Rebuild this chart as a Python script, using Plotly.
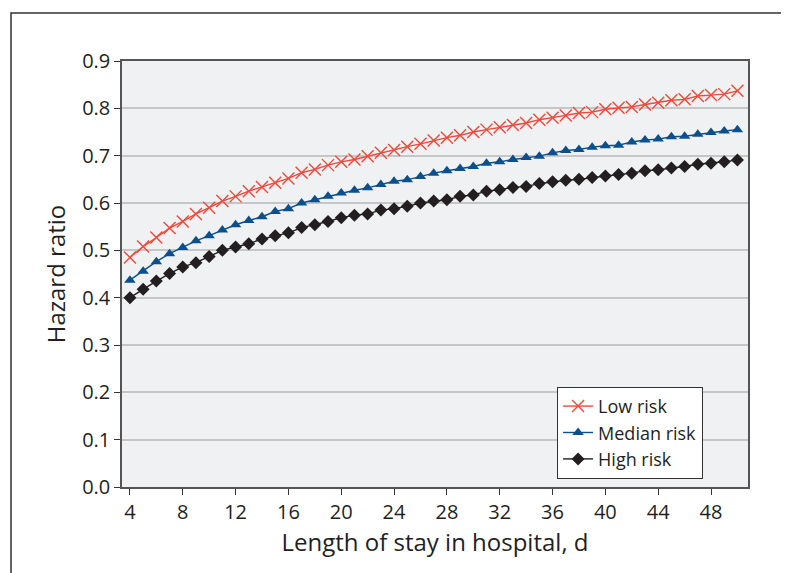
import plotly.graph_objects as go

days = list(range(4, 51))

low_risk = [0.485, 0.508, 0.527, 0.547, 0.561, 0.577, 0.590, 0.604, 0.614, 0.625,
            0.634, 0.643, 0.652, 0.664, 0.671, 0.680, 0.687, 0.692, 0.699, 0.706,
            0.712, 0.719, 0.725, 0.732, 0.738, 0.743, 0.750, 0.755, 0.760, 0.765,
            0.769, 0.776, 0.780, 0.785, 0.790, 0.792, 0.798, 0.801, 0.803, 0.808,
            0.812, 0.817, 0.819, 0.826, 0.828, 0.830, 0.837]

median_risk = [0.437, 0.456, 0.476, 0.493, 0.506, 0.520, 0.531, 0.543, 0.554, 0.563,
               0.571, 0.582, 0.588, 0.600, 0.607, 0.614, 0.621, 0.627, 0.632, 0.639,
               0.646, 0.649, 0.656, 0.663, 0.668, 0.673, 0.677, 0.684, 0.687, 0.692,
               0.696, 0.699, 0.706, 0.711, 0.713, 0.718, 0.721, 0.722, 0.729, 0.733,
               0.735, 0.740, 0.741, 0.745, 0.749, 0.752, 0.755]

high_risk = [0.400, 0.418, 0.435, 0.451, 0.465, 0.474, 0.487, 0.500, 0.507, 0.514,
             0.524, 0.531, 0.537, 0.548, 0.554, 0.561, 0.569, 0.574, 0.577, 0.585,
             0.588, 0.593, 0.600, 0.604, 0.607, 0.614, 0.617, 0.625, 0.628, 0.633,
             0.635, 0.641, 0.645, 0.648, 0.650, 0.654, 0.657, 0.660, 0.663, 0.668,
             0.670, 0.674, 0.677, 0.682, 0.684, 0.687, 0.691]

x_ticks = list(range(4, 49, 4))
y_ticks = [i / 10 for i in range(0, 10)]

RED = "#f0483a"
BLUE = "#0b4f8d"
BLACK = "#231f20"
TEXT = "#231f20"
FONT = "Open Sans"

fig = go.Figure()
fig.add_trace(go.Scatter(
    x=days, y=low_risk, name="Low risk", mode="lines+markers",
    line=dict(color=RED, width=1.4),
    marker=dict(symbol="x-thin", size=12, color=RED, line=dict(color=RED, width=1.4)),
))
fig.add_trace(go.Scatter(
    x=days, y=median_risk, name="Median risk", mode="lines+markers",
    line=dict(color=BLUE, width=1.4),
    marker=dict(symbol="triangle-up", size=10, color=BLUE),
))
fig.add_trace(go.Scatter(
    x=days, y=high_risk, name="High risk", mode="lines+markers",
    line=dict(color=BLACK, width=1.4),
    marker=dict(symbol="diamond", size=10, color=BLACK),
))

fig.update_layout(
    width=789, height=573,
    margin=dict(l=114, r=49, t=53, b=94),
    paper_bgcolor="white",
    plot_bgcolor="#f0f1f3",
    font=dict(family=FONT, size=20, color=TEXT),
    showlegend=True,
    legend=dict(
        x=0.695, y=0.235, xanchor="left", yanchor="top",
        bgcolor="white", bordercolor="#333333", borderwidth=1,
        font=dict(family=FONT, size=18, color=TEXT),
        itemwidth=30, tracegroupgap=0,
    ),
    xaxis=dict(
        range=[3.4, 50.8], tickmode="array", tickvals=x_ticks,
        ticks="outside", ticklen=6, tickcolor="#333333", tickwidth=1.2,
        showgrid=False, zeroline=False,
        showline=True, mirror=True, linecolor="#555555", linewidth=1.5,
        tickfont=dict(size=20),
        title=dict(text="Length of stay in hospital, d", font=dict(size=24), standoff=4),
    ),
    yaxis=dict(
        range=[0, 0.9], tickmode="array", tickvals=y_ticks, tickformat=".1f",
        ticks="outside", ticklen=6, tickcolor="#333333", tickwidth=1.2,
        showgrid=True, gridcolor="#c6c6c6", gridwidth=2, zeroline=False,
        showline=True, mirror=True, linecolor="#555555", linewidth=1.5,
        tickfont=dict(size=20),
        title=dict(text="Hazard ratio", font=dict(size=24), standoff=10),
    ),
    shapes=[dict(
        type="rect", xref="paper", yref="paper",
        x0=-0.1773, x1=1.3, y0=-0.5, y1=1.1127,
        line=dict(color="#333333", width=1.5), fillcolor="rgba(0,0,0,0)", layer="below",
    )],
)

fig.write_html("out.html")
